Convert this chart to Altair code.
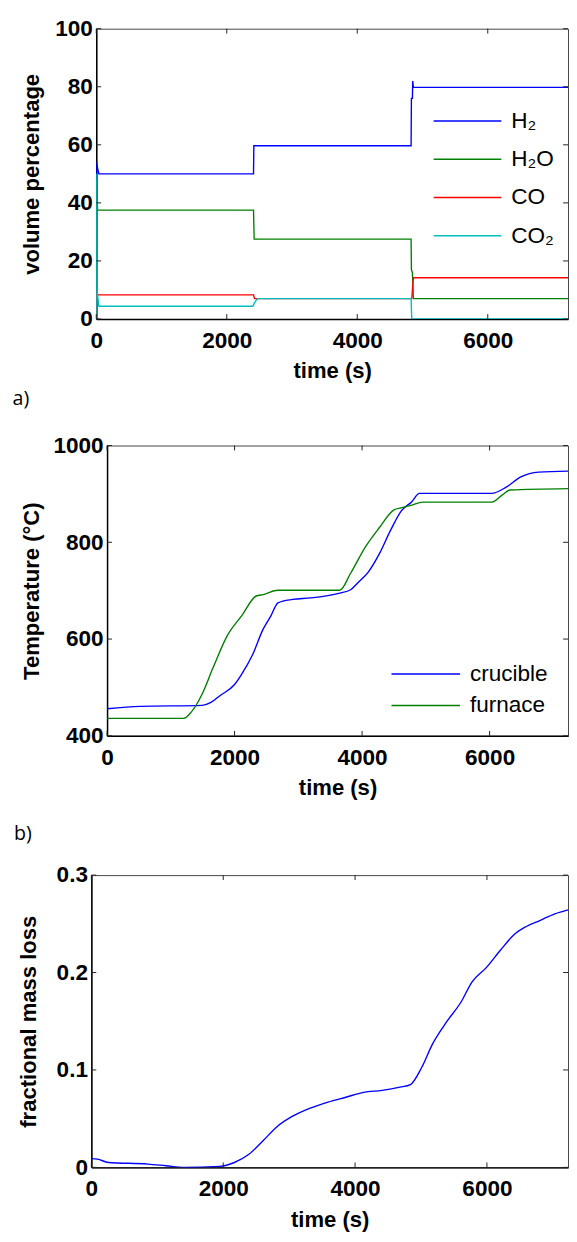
import altair as alt
import pandas as pd

# ---------------- data ----------------
X_TICKS = [0, 2000, 4000, 6000]
X_MAX = 7230

# panel a: gas composition (volume %)
GASES = ["H₂", "H₂O", "CO", "CO₂"]
GAS_COLORS = ["#0000ff", "#008000", "#ff0000", "#00bfbf"]
h2_t = [0, 5, 20, 40, 2410, 2415, 4825, 4830, 4845, 4850, 4860, 7230]
h2_v = [0, 54, 52, 50, 50, 59.7, 59.7, 76, 76, 82, 79.8, 79.8]
h2o_t = [0, 5, 20, 60, 2410, 2420, 4825, 4830, 4845, 4860, 7230]
h2o_v = [0, 48, 37.5, 37.5, 37.5, 27.5, 27.5, 17, 16, 7, 7]
co_t = [0, 5, 15, 30, 2410, 2425, 4825, 4835, 4860, 7230]
co_v = [0, 10, 8.5, 8.3, 8.3, 7, 7, 7, 14.2, 14.2]
co2_t = [0, 5, 10, 40, 2400, 2430, 2470, 4825, 4835, 7230]
co2_v = [0, 50, 10, 4.4, 4.4, 5.8, 7, 7, 0, 0]
Y_TICKS_A = [0, 20, 40, 60, 80, 100]

# panel b: temperatures
SENSORS = ["crucible", "furnace"]
SENSOR_COLORS = ["#0000ff", "#008000"]
crucible_t = [0, 520, 1490, 1630, 1770, 2000, 2110, 2280, 2450, 2570, 2680, 2910, 3190,
              3650, 3820, 3930, 4100, 4270, 4440, 4610, 4780, 4900, 6030, 6260, 6490, 6770, 7230]
crucible_v = [456, 461, 463, 469, 483, 506, 527, 567, 621, 648, 675, 682, 685,
              695, 702, 716, 739, 776, 823, 864, 884, 901, 901, 914, 935, 945, 947]
furnace_t = [0, 1200, 1320, 1490, 1660, 1890, 2110, 2340, 2450, 2680, 3650, 3820, 4050,
             4270, 4500, 4610, 4780, 4950, 6030, 6200, 6320, 7230]
furnace_v = [436, 436, 449, 486, 540, 608, 648, 689, 692, 701, 701, 736, 790,
             830, 867, 871, 877, 883, 883, 898, 908, 911]
Y_TICKS_B = [400, 600, 800, 1000]

# panel c: fractional mass loss
mass_t = [0, 90, 260, 860, 1130, 1400, 1950, 2170, 2390, 2600, 2820, 3040, 3310, 3590,
          3860, 4130, 4410, 4680, 4840, 5010, 5170, 5390, 5610, 5770, 5990, 6210, 6430,
          6590, 6810, 7030, 7230]
mass_v = [0.009, 0.0085, 0.005, 0.0034, 0.0017, 0.0, 0.001, 0.005, 0.0134, 0.027, 0.042,
          0.052, 0.0605, 0.067, 0.072, 0.077, 0.079, 0.0823, 0.085, 0.1025, 0.126, 0.1495,
          0.17, 0.19, 0.205, 0.2234, 0.24, 0.247, 0.2536, 0.2603, 0.2644]
Y_TICKS_C = [0, 0.1, 0.2, 0.3]

# ---------------- tables ----------------
gas_series = [(GASES[0], h2_t, h2_v), (GASES[1], h2o_t, h2o_v),
              (GASES[2], co_t, co_v), (GASES[3], co2_t, co2_v)]
df_a = pd.DataFrame([{"t": t, "v": v, "series": n} for n, ts, vs in gas_series for t, v in zip(ts, vs)])
df_b = pd.DataFrame([{"t": t, "v": v, "sensor": n}
                     for n, ts, vs in [(SENSORS[0], crucible_t, crucible_v), (SENSORS[1], furnace_t, furnace_v)]
                     for t, v in zip(ts, vs)])
df_c = pd.DataFrame({"t": mass_t, "v": mass_v})

FONT = "Liberation Sans"
LBL = 23
TTL = 22.5


def x_axis():
    return alt.Axis(values=X_TICKS, title="time (s)", format="d", ticks=False, grid=False,
                    labelFont=FONT, labelFontSize=LBL, labelFontWeight="bold", labelColor="black",
                    labelPadding=11, labelFlush=False, labelOverlap=False,
                    titleFont=FONT, titleFontSize=TTL, titleFontWeight="bold", titleColor="black",
                    titlePadding=8, domainColor="black", domainWidth=1.5)


def y_axis(values, title, fmt, tpad):
    return alt.Axis(values=values, title=title, format=fmt, ticks=False, grid=False,
                    labelFont=FONT, labelFontSize=LBL, labelFontWeight="bold", labelColor="black",
                    labelPadding=4, labelFlush=False, labelOverlap=False,
                    titleFont=FONT, titleFontSize=TTL, titleFontWeight="bold", titleColor="black",
                    titlePadding=tpad, domainColor="black", domainWidth=1.5)


def inner_ticks(xs, ys, xax, yax, yvals, W, H, L=5):
    xt = alt.Chart(pd.DataFrame({"t": X_TICKS}))
    yt = alt.Chart(pd.DataFrame({"v": yvals}))
    kw = dict(color="#222", strokeWidth=1)
    X = alt.X("t:Q", scale=xs, axis=xax)
    Y = alt.Y("v:Q", scale=ys, axis=yax)
    xb = xt.mark_rule(**kw).encode(x=X, y=alt.value(H), y2=alt.value(H - L))
    xtp = xt.mark_rule(**kw).encode(x=X, y=alt.value(0), y2=alt.value(L))
    yl = yt.mark_rule(**kw).encode(y=Y, x=alt.value(0), x2=alt.value(L))
    yr = yt.mark_rule(**kw).encode(y=Y, x=alt.value(W), x2=alt.value(W - L))
    return [xb, xtp, yl, yr]


def spacer(w):
    return alt.Chart(pd.DataFrame({"s": [0]})).mark_point(opacity=0, size=1).encode(
        x=alt.value(0), y=alt.value(0)).properties(width=w, height=1,
                                                    view=alt.ViewBackground(stroke="transparent"))


def label_title(txt, orient, offset, dx):
    return alt.TitleParams(txt, orient=orient, anchor="start", font="Open Sans", fontSize=20,
                           fontWeight="normal", color="black", offset=offset, dx=dx)


def gas_legend(x, y, size, row_pad):
    return alt.Legend(title=None, orient="none", legendX=x, legendY=y,
                      symbolType="stroke", symbolSize=size, symbolStrokeWidth=1.5,
                      clipHeight=20, rowPadding=row_pad, padding=0,
                      labelFont=FONT, labelFontSize=LBL, labelColor="black", labelOffset=9)


# ---------------- panel a ----------------
WA, HA = 481, 296
xs_a = alt.Scale(domain=[0, X_MAX], nice=False, zero=False)
ys_a = alt.Scale(domain=[0, 100], nice=False)
xax_a = x_axis()
yax_a = y_axis(Y_TICKS_A, "volume percentage", "d", 12)
line_a = alt.Chart(df_a).mark_line(strokeWidth=1.4, clip=True).encode(
    x=alt.X("t:Q", scale=xs_a, axis=xax_a),
    y=alt.Y("v:Q", scale=ys_a, axis=yax_a),
    color=alt.Color("series:N", scale=alt.Scale(domain=GASES, range=GAS_COLORS),
                    legend=gas_legend(432, 84, 4761, 16)),
)
panel_a = alt.layer(line_a, *inner_ticks(xs_a, ys_a, xax_a, yax_a, Y_TICKS_A, WA, HA)).properties(
    width=WA, height=HA, title=label_title("a)", "bottom", 7.5, -8))

# ---------------- panel b ----------------
WB, HB = 470, 296
xs_b = alt.Scale(domain=[0, X_MAX], nice=False, zero=False)
ys_b = alt.Scale(domain=[400, 1000], nice=False, zero=False)
xax_b = x_axis()
yax_b = y_axis(Y_TICKS_B, "Temperature (°C)", "d", 10)
line_b = alt.Chart(df_b).mark_line(strokeWidth=1.4, clip=True, interpolate="monotone").encode(
    x=alt.X("t:Q", scale=xs_b, axis=xax_b),
    y=alt.Y("v:Q", scale=ys_b, axis=yax_b),
    color=alt.Color("sensor:N", scale=alt.Scale(domain=SENSORS, range=SENSOR_COLORS),
                    legend=gas_legend(389, 223, 4900, 9)),
)
panel_b = alt.layer(line_b, *inner_ticks(xs_b, ys_b, xax_b, yax_b, Y_TICKS_B, WB, HB)).properties(
    width=WB, height=HB)

# ---------------- panel c ----------------
WC, HC = 486, 298
xs_c = alt.Scale(domain=[0, X_MAX], nice=False, zero=False)
ys_c = alt.Scale(domain=[0, 0.3], nice=False)
xax_c = x_axis()
yax_c = y_axis(Y_TICKS_C, "fractional mass loss", "~g", 16)
line_c = alt.Chart(df_c).mark_line(strokeWidth=1.4, color="#0000ff", clip=True,
                                   interpolate="monotone").encode(
    x=alt.X("t:Q", scale=xs_c, axis=xax_c),
    y=alt.Y("v:Q", scale=ys_c, axis=yax_c),
)
panel_c = alt.layer(line_c, *inner_ticks(xs_c, ys_c, xax_c, yax_c, Y_TICKS_C, WC, HC)).properties(
    width=WC, height=HC, title=label_title("b)", "top", 21, -4))

row_a = alt.hconcat(spacer(2), panel_a, spacing=0)
row_b = alt.hconcat(spacer(10), panel_b, spacing=0)
row_c = alt.hconcat(spacer(3), panel_c, spacing=0)

chart = alt.vconcat(row_a, row_b, row_c, spacing=24).resolve_scale(
    x="independent", y="independent", color="independent"
).properties(
    padding={"left": 0, "top": -3, "right": 0, "bottom": 0}
).configure(background="white").configure_view(stroke="#444", strokeWidth=1)

chart.save("out.html", embed_options={"renderer": "svg", "actions": False})
